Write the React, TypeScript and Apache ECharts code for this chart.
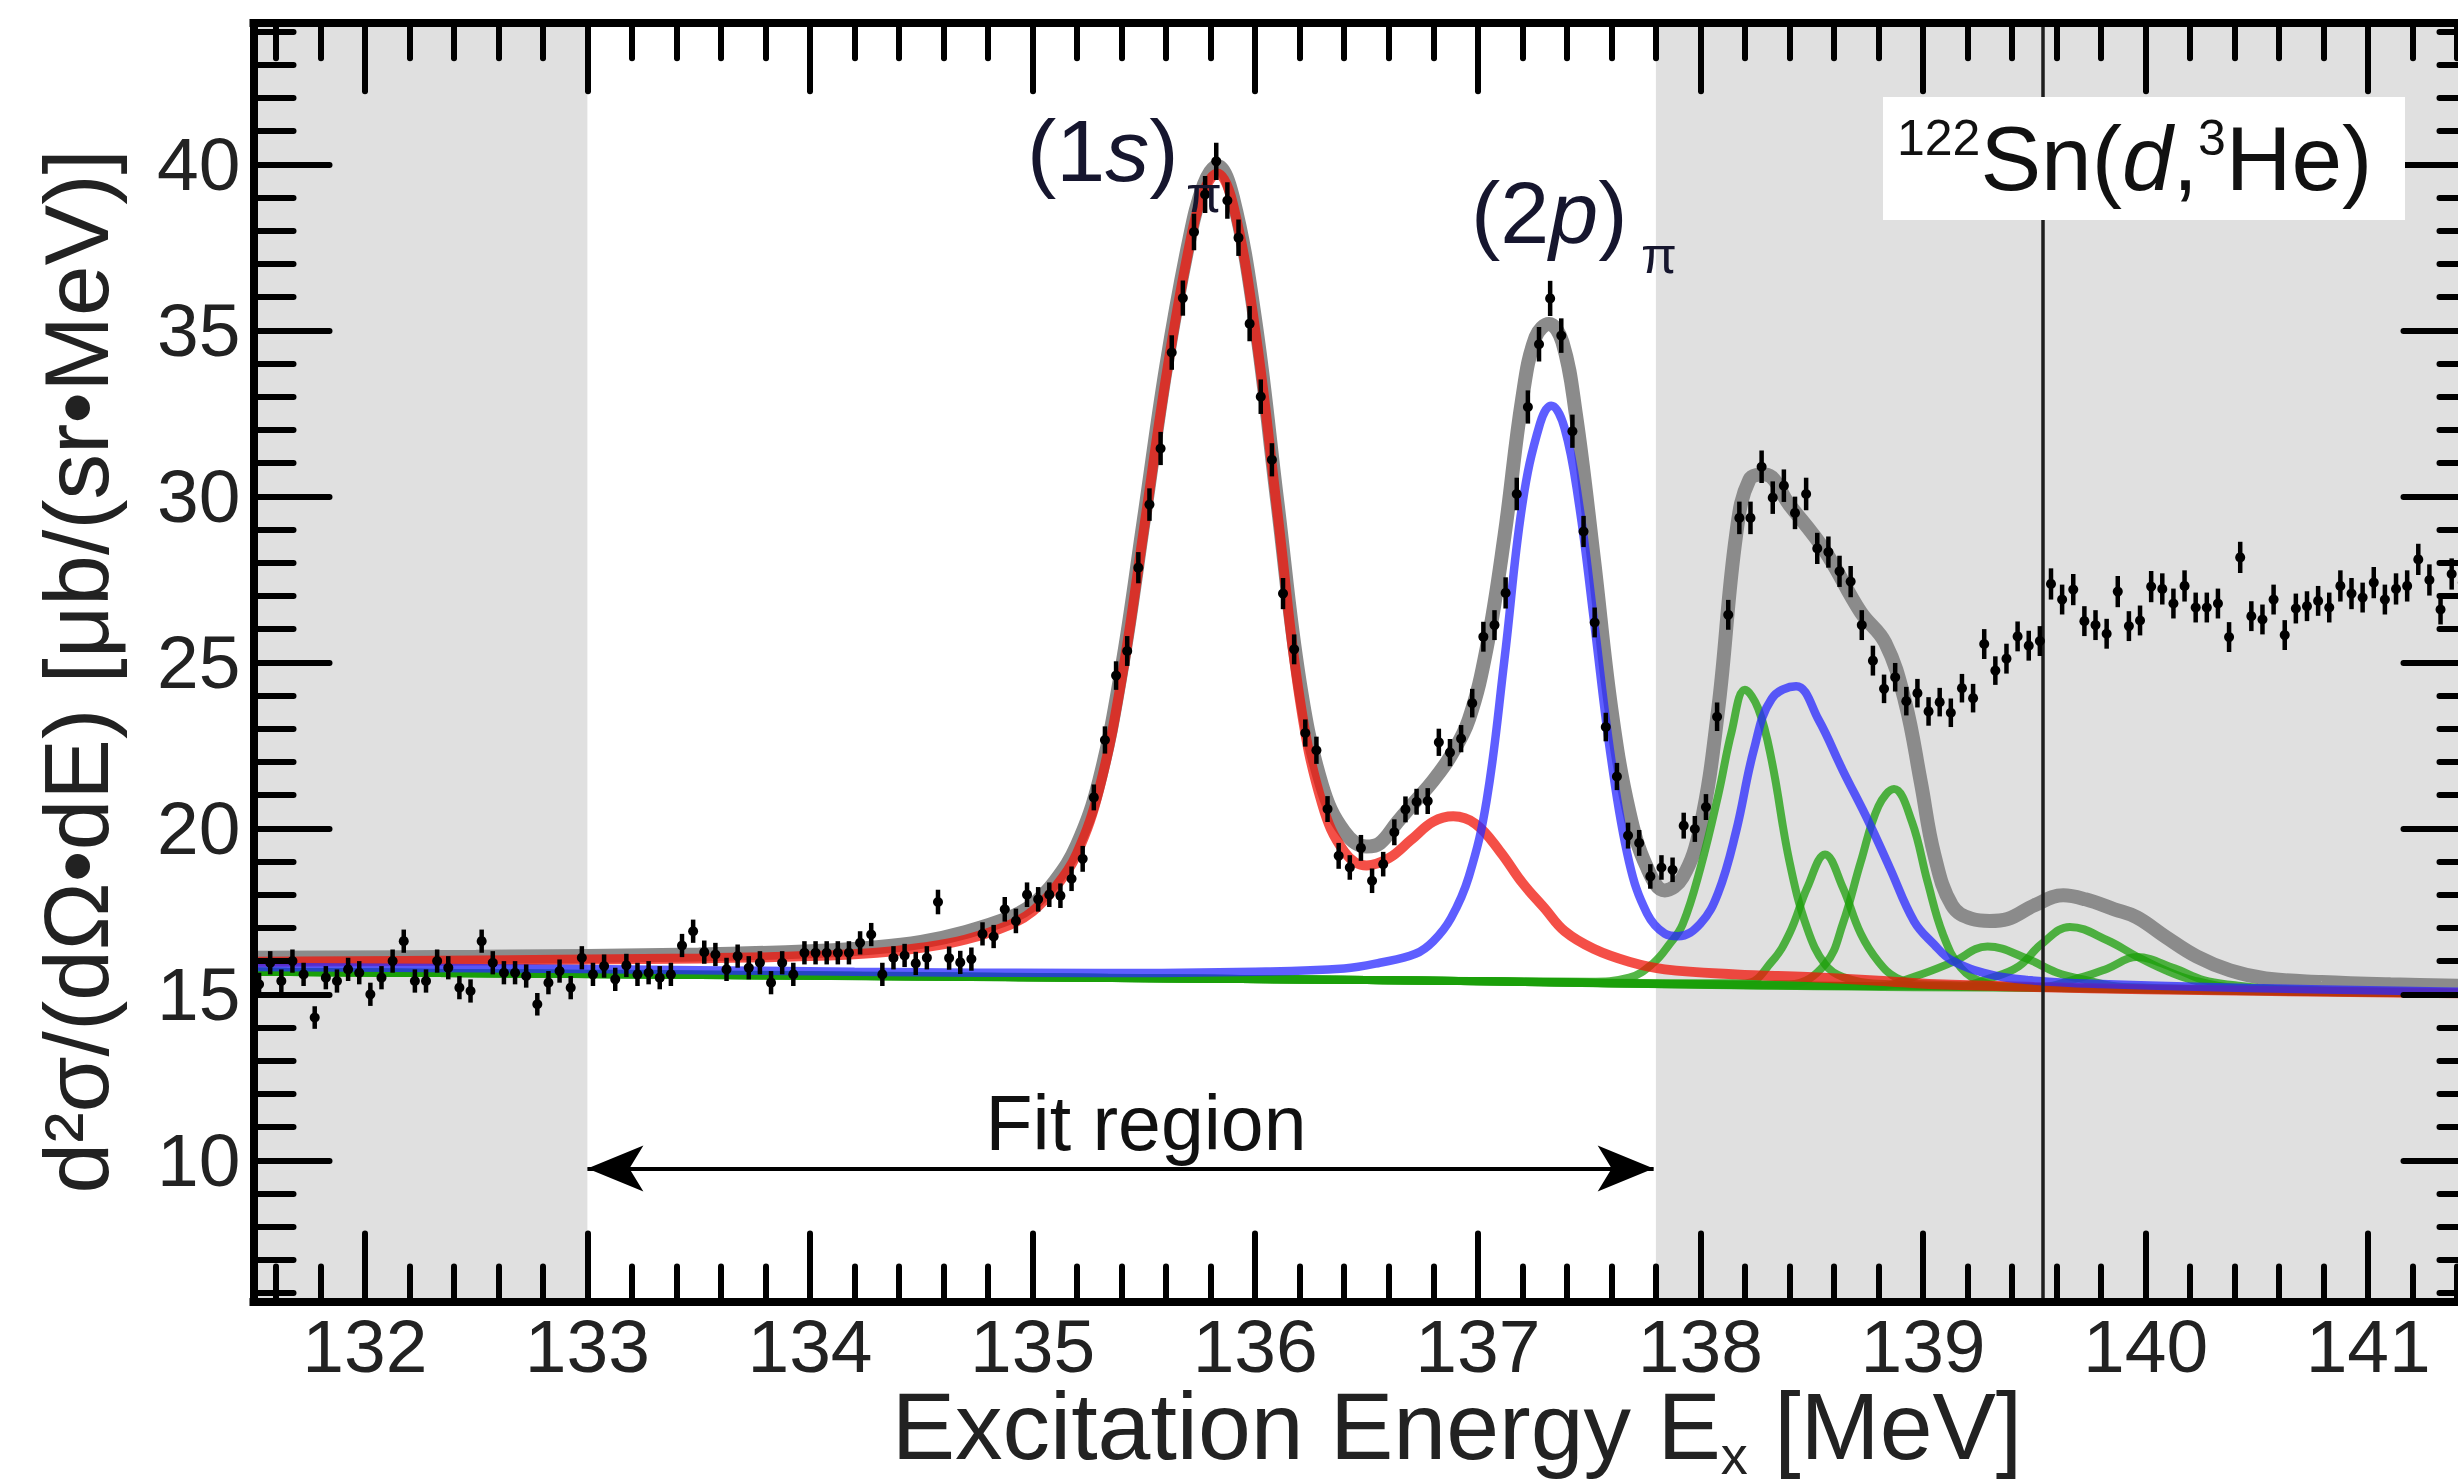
import React, { useEffect, useRef } from "react";
import * as echarts from "echarts";

const FONT = "'Liberation Sans', Arial, Helvetica, sans-serif";

const X_MIN = 131.5;
const X_MAX = 141.5;
const Y_MIN = 5.75;
const Y_MAX = 44.25;

const BIN_START = 131.525;
const BIN_WIDTH = 0.05;

const COUNTS = [
  15.3, 15.95, 15.4, 16.0, 15.6, 14.3, 15.5, 15.4, 15.75, 15.65,
  15.0, 15.5, 16.0, 16.6, 15.4, 15.4, 16.0, 15.8, 15.2, 15.1,
  16.6, 15.95, 15.65, 15.65, 15.55, 14.7, 15.35, 15.7, 15.2, 16.1,
  15.6, 15.85, 15.45, 15.87, 15.6, 15.65, 15.5, 15.6, 16.47, 16.9,
  16.27, 16.2, 15.75, 16.15, 15.8, 15.95, 15.35, 15.95, 15.6, 16.25,
  16.25, 16.25, 16.25, 16.25, 16.55, 16.8, 15.6, 16.1, 16.17, 15.93,
  16.1, 17.78, 16.09, 15.96, 16.06, 16.82, 16.74, 17.56, 17.21, 18.0,
  17.86, 18.0, 17.97, 18.48, 19.08, 20.93, 22.66, 24.6, 25.34, 27.85,
  29.75, 31.44, 34.33, 35.97, 37.96, 39.09, 40.09, 38.91, 37.79, 35.2,
  33.0, 31.1, 27.07, 25.39, 22.87, 22.35, 20.58, 19.17, 18.82, 19.41,
  18.42, 18.92, 19.88, 20.57, 20.8, 20.82, 22.59, 22.28, 22.7, 23.77,
  25.77, 26.12, 27.09, 30.07, 32.69, 34.58, 35.96, 34.84, 31.96, 28.94,
  26.2, 23.05, 21.56, 19.78, 19.56, 18.55, 18.82, 18.75, 20.08, 19.98,
  20.64, 23.36, 26.43, 29.35, 29.35, 30.89, 29.96, 30.32, 29.5, 30.07,
  28.43, 28.32, 27.74, 27.43, 26.12, 25.05, 24.2, 24.55, 23.83, 24.07,
  23.52, 23.8, 23.48, 24.22, 23.92, 25.55, 24.75, 25.11, 25.78, 25.5,
  25.64, 27.36, 26.89, 27.19, 26.24, 26.12, 25.86, 27.13, 26.09, 26.26,
  27.28, 27.21, 26.77, 27.3, 26.65, 26.65, 26.77, 25.76, 28.16, 26.39,
  26.29, 26.89, 25.82, 26.62, 26.69, 26.85, 26.65, 27.3, 27.07, 26.95,
  27.4, 26.89, 27.21, 27.3, 28.1, 27.48, 26.59, 27.66, 27.4, 27.5,
];

const ERRORS = [
  0.35, 0.35, 0.35, 0.35, 0.35, 0.34, 0.35, 0.35, 0.35, 0.35,
  0.35, 0.35, 0.35, 0.35, 0.35, 0.35, 0.35, 0.35, 0.35, 0.35,
  0.35, 0.35, 0.35, 0.35, 0.35, 0.34, 0.35, 0.35, 0.35, 0.35,
  0.35, 0.35, 0.35, 0.35, 0.35, 0.35, 0.35, 0.35, 0.35, 0.35,
  0.35, 0.35, 0.35, 0.35, 0.35, 0.35, 0.35, 0.35, 0.35, 0.35,
  0.35, 0.35, 0.35, 0.35, 0.35, 0.35, 0.35, 0.35, 0.35, 0.35,
  0.35, 0.37, 0.35, 0.35, 0.35, 0.35, 0.35, 0.37, 0.37, 0.37,
  0.37, 0.37, 0.37, 0.37, 0.39, 0.39, 0.41, 0.43, 0.45, 0.47,
  0.49, 0.5, 0.52, 0.53, 0.55, 0.56, 0.56, 0.55, 0.55, 0.53,
  0.52, 0.5, 0.47, 0.45, 0.41, 0.41, 0.39, 0.39, 0.37, 0.39,
  0.37, 0.37, 0.39, 0.39, 0.39, 0.39, 0.41, 0.41, 0.41, 0.43,
  0.45, 0.45, 0.47, 0.49, 0.5, 0.52, 0.53, 0.52, 0.5, 0.47,
  0.45, 0.43, 0.41, 0.39, 0.39, 0.37, 0.37, 0.37, 0.39, 0.39,
  0.39, 0.43, 0.45, 0.49, 0.49, 0.49, 0.49, 0.49, 0.49, 0.49,
  0.47, 0.47, 0.47, 0.47, 0.45, 0.45, 0.43, 0.43, 0.43, 0.43,
  0.43, 0.43, 0.43, 0.43, 0.43, 0.45, 0.43, 0.45, 0.45, 0.45,
  0.45, 0.47, 0.45, 0.47, 0.45, 0.45, 0.45, 0.47, 0.45, 0.45,
  0.47, 0.47, 0.45, 0.47, 0.45, 0.45, 0.45, 0.45, 0.47, 0.45,
  0.45, 0.45, 0.45, 0.45, 0.45, 0.45, 0.45, 0.47, 0.47, 0.45,
  0.47, 0.45, 0.47, 0.47, 0.47, 0.47, 0.45, 0.47, 0.47, 0.47,
];

const FIT_TOTAL = [
  [131.5, 16.1], [132.5, 16.13], [133.5, 16.2], [134.0, 16.3], [134.3, 16.42],
  [134.5, 16.58], [134.7, 16.88], [134.9, 17.32], [135.0, 17.7], [135.1, 18.4],
  [135.2, 19.5], [135.3, 21.45], [135.4, 24.8], [135.5, 29.3], [135.6, 33.9],
  [135.7, 37.6], [135.77, 39.4], [135.83, 39.95], [135.9, 39.0], [136.0, 35.3],
  [136.1, 29.8], [136.2, 24.4], [136.3, 21.3], [136.4, 19.9], [136.5, 19.45],
  [136.56, 19.55], [136.64, 20.2], [136.72, 20.82], [136.8, 21.44], [136.88, 22.2],
  [136.96, 23.28], [137.04, 25.43], [137.12, 28.81], [137.2, 32.96], [137.26, 34.8],
  [137.32, 35.19], [137.38, 34.65], [137.44, 32.5], [137.52, 28.2], [137.6, 23.59],
  [137.68, 20.51], [137.76, 18.82], [137.84, 18.13], [137.92, 18.52], [138.0, 20.05],
  [138.08, 23.59], [138.16, 28.81], [138.22, 30.5], [138.29, 30.66], [138.4, 29.74],
  [138.56, 28.35], [138.72, 26.51], [138.83, 25.59], [138.92, 23.8], [138.99, 21.4],
  [139.05, 19.23], [139.13, 17.68], [139.22, 17.27], [139.3, 17.21], [139.38, 17.27],
  [139.5, 17.68], [139.63, 17.98], [139.73, 17.86], [139.86, 17.56], [139.96, 17.32],
  [140.09, 16.73], [140.23, 16.14], [140.38, 15.72], [140.54, 15.48], [140.79, 15.37],
  [141.1, 15.3], [141.5, 15.25],
];

const FIT_1S = [
  [131.5, 15.98], [132.5, 16.02], [133.5, 16.08], [134.0, 16.15], [134.3, 16.25],
  [134.5, 16.4], [134.7, 16.65], [134.9, 17.1], [135.0, 17.5], [135.1, 18.2],
  [135.2, 19.25], [135.3, 21.2], [135.4, 24.5], [135.5, 29.0], [135.6, 33.6],
  [135.7, 37.4], [135.77, 39.2], [135.83, 39.72], [135.9, 38.8], [136.0, 35.0],
  [136.1, 29.5], [136.2, 23.9], [136.3, 20.75], [136.4, 19.3], [136.5, 18.88],
  [136.6, 19.1], [136.7, 19.65], [136.8, 20.2], [136.89, 20.36], [136.99, 20.13],
  [137.1, 19.3], [137.2, 18.36], [137.3, 17.59], [137.39, 16.9], [137.52, 16.37],
  [137.68, 15.98], [137.84, 15.75], [138.16, 15.6], [138.48, 15.52], [138.8, 15.41],
  [139.06, 15.3], [139.5, 15.22], [140.0, 15.15], [141.5, 15.02],
];

const FIT_2P = [
  [131.5, 15.82], [133.0, 15.76], [134.2, 15.68], [135.3, 15.64], [136.0, 15.68],
  [136.4, 15.78], [136.56, 15.95], [136.72, 16.22], [136.8, 16.6], [136.88, 17.3],
  [136.96, 18.55], [137.04, 20.85], [137.12, 25.1], [137.2, 29.75], [137.28, 32.2],
  [137.33, 32.73], [137.39, 32.05], [137.455, 29.75], [137.52, 26.35], [137.6, 22.05],
  [137.68, 18.98], [137.76, 17.44], [137.84, 16.83], [137.9, 16.75], [138.0, 17.13],
  [138.08, 18.06], [138.16, 19.9], [138.24, 22.36], [138.32, 23.9], [138.43, 24.28],
  [138.53, 23.28], [138.64, 21.74], [138.755, 20.21], [138.85, 18.82], [138.96, 17.2],
  [139.05, 16.5], [139.13, 16.02], [139.3, 15.6], [139.47, 15.43], [139.8, 15.31],
  [140.46, 15.19], [141.5, 15.07],
];

const FIT_OTHER_1 = [
  [131.5, 15.68], [134.0, 15.58], [136.5, 15.43], [137.5, 15.38], [137.68, 15.5],
  [137.79, 15.95], [137.86, 16.5], [137.92, 17.1], [138.0, 18.8], [138.08, 21.0],
  [138.14, 22.9], [138.2, 24.17], [138.26, 23.6], [138.32, 22.05], [138.4, 19.0],
  [138.48, 16.98], [138.56, 15.9], [138.64, 15.52], [138.8, 15.32], [139.5, 15.2],
  [141.5, 15.02],
];
const FIT_OTHER_2 = [
  [131.5, 15.68], [136.5, 15.43], [138.2, 15.33], [138.32, 15.98], [138.4, 16.83],
  [138.48, 18.21], [138.56, 19.21], [138.64, 18.21], [138.72, 16.83], [138.8, 15.98],
  [138.88, 15.5], [139.0, 15.3], [141.5, 15.02],
];
const FIT_OTHER_3 = [
  [131.5, 15.68], [136.5, 15.43], [138.4, 15.3], [138.56, 15.9], [138.64, 17.13],
  [138.72, 18.98], [138.8, 20.67], [138.87, 21.18], [138.95, 20.2], [139.02, 18.4],
  [139.09, 16.8], [139.17, 15.8], [139.27, 15.36], [139.4, 15.22], [141.5, 15.02],
];
const FIT_OTHER_4 = [
  [131.5, 15.68], [136.5, 15.43], [138.8, 15.25], [138.97, 15.55], [139.13, 15.96],
  [139.29, 16.44], [139.465, 16.08], [139.6, 15.66], [139.73, 15.43], [139.9, 15.22],
  [141.5, 15.02],
];
const FIT_OTHER_5 = [
  [131.5, 15.68], [136.5, 15.43], [139.15, 15.24], [139.3, 15.48], [139.43, 15.84],
  [139.53, 16.5], [139.66, 17.03], [139.83, 16.62], [139.96, 16.14], [140.09, 15.72],
  [140.21, 15.43], [140.4, 15.2], [141.5, 15.02],
];
const FIT_OTHER_6 = [
  [131.5, 15.68], [136.5, 15.43], [139.5, 15.2], [139.73, 15.55], [139.83, 15.78],
  [139.96, 16.12], [140.13, 15.78], [140.26, 15.43], [140.39, 15.28], [140.6, 15.15],
  [141.5, 15.02],
];
const OTHER_FITS = [FIT_OTHER_1, FIT_OTHER_2, FIT_OTHER_3, FIT_OTHER_4, FIT_OTHER_5, FIT_OTHER_6];

const EXCLUDED_RANGES = [
  [131.5, 133.0],
  [137.8, 141.5],
];
const FIT_REGION = [133.0, 137.79];
const FIT_ARROW_Y = 9.75;
const THRESHOLD_E = 139.54;

// pixel layout
const W = 2458;
const H = 1484;
const GRID_LEFT = 253.5;
const GRID_TOP = 23.2;
const GRID_RIGHT_PX = 2479.5;
const GRID_BOTTOM_PX = 1301.4;
const ARROW_HEAD_LEN = 56;

export default function App() {
  const ref = useRef<HTMLDivElement>(null);

  useEffect(() => {
    if (!ref.current) return;
    const chart = echarts.init(ref.current, null, { renderer: "svg" });

    const points = COUNTS.map((y, i) => [
      +(BIN_START + i * BIN_WIDTH).toFixed(3),
      y,
      ERRORS[i],
    ]);

    const axisCommonX = {
      type: "value",
      min: X_MIN,
      max: X_MAX,
      splitNumber: 10,
      z: 60,
      splitLine: { show: false },
      nameMoveOverlap: false,
      axisLine: { show: true, onZero: false, lineStyle: { color: "#000", width: 8, cap: "square" } },
      axisTick: { show: true, inside: true, length: 68, lineStyle: { color: "#000", width: 6, cap: "round" } },
      minorTick: { show: true, splitNumber: 5, length: 35, lineStyle: { color: "#000", width: 6, cap: "round" } },
    };
    const axisCommonY = {
      type: "value",
      min: Y_MIN,
      max: Y_MAX,
      splitNumber: 8,
      z: 60,
      splitLine: { show: false },
      nameMoveOverlap: false,
      axisLine: { show: true, onZero: false, lineStyle: { color: "#000", width: 8, cap: "square" } },
      axisTick: { show: true, inside: true, length: 76, lineStyle: { color: "#000", width: 6, cap: "round" } },
      minorTick: { show: true, splitNumber: 5, length: 40, lineStyle: { color: "#000", width: 6, cap: "round" } },
    };

    const greenColor = "rgba(27,159,9,0.75)";

    const option: any = {
      animation: false,
      backgroundColor: "#ffffff",
      textStyle: { fontFamily: FONT },
      grid: {
        left: GRID_LEFT,
        top: GRID_TOP,
        right: W - GRID_RIGHT_PX,
        bottom: H - GRID_BOTTOM_PX,
        containLabel: false,
        outerBoundsMode: "none",
      },
      xAxis: [
        {
          ...axisCommonX,
          position: "bottom",
          name: "{a|Excitation Energy E}{b|x}{a| [MeV]}",
          nameLocation: "middle",
          nameGap: 76.6,
          nameTextStyle: {
            padding: [0, 0, 0, 181],
            rich: {
              a: { fontSize: 95, lineHeight: 80, color: "#222", fontFamily: FONT, verticalAlign: "top" },
              b: { fontSize: 54, lineHeight: 40, color: "#222", fontFamily: FONT, verticalAlign: "top", padding: [50, 0, 0, 0] },
            },
          },
          axisLabel: {
            show: true,
            fontSize: 75,
            lineHeight: 66,
            color: "#222",
            fontFamily: FONT,
            margin: 11.5,
            showMinLabel: false,
            showMaxLabel: false,
          },
        },
        {
          ...axisCommonX,
          position: "top",
          axisLabel: { show: false },
        },
      ],
      yAxis: [
        {
          ...axisCommonY,
          position: "left",
          name: "d²σ/(dΩ•dE) [μb/(sr•MeV)]",
          nameLocation: "middle",
          nameGap: 132,
          nameTextStyle: { fontSize: 91, color: "#222", fontFamily: FONT, padding: [0, 18, 0, 0] },
          axisLabel: {
            show: true,
            fontSize: 75,
            color: "#222",
            fontFamily: FONT,
            margin: 13,
            showMinLabel: false,
            showMaxLabel: false,
          },
        },
        {
          ...axisCommonY,
          position: "right",
          axisLabel: { show: false },
        },
      ],
      series: [
        {
          name: "excluded",
          type: "line",
          data: [],
          z: 1,
          markArea: {
            silent: true,
            z: 1,
            itemStyle: { color: "#e0e0e0" },
            data: EXCLUDED_RANGES.map((r) => [{ xAxis: r[0] }, { xAxis: r[1] }]),
          },
        },
        {
          name: "total",
          type: "line",
          data: FIT_TOTAL,
          smooth: 0.4,
          showSymbol: false,
          z: 2,
          lineStyle: { color: "#8b8b8b", width: 14 },
        },
        ...OTHER_FITS.map((d, i) => ({
          name: "other" + i,
          type: "line",
          data: d,
          smooth: 0.4,
          showSymbol: false,
          z: 3,
          lineStyle: { color: greenColor, width: 8 },
        })),
        {
          name: "1s",
          type: "line",
          data: FIT_1S,
          smooth: 0.4,
          showSymbol: false,
          z: 4,
          lineStyle: { color: "rgba(240,20,10,0.75)", width: 10 },
        },
        {
          name: "2p",
          type: "line",
          data: FIT_2P,
          smooth: 0.4,
          showSymbol: false,
          z: 5,
          lineStyle: { color: "rgba(40,40,255,0.75)", width: 8.5 },
        },
        {
          name: "threshold",
          type: "line",
          data: [],
          z: 6,
          markLine: {
            silent: true,
            z: 6,
            symbol: ["none", "none"],
            label: { show: false },
            lineStyle: { color: "#1e1e1e", width: 3.5, type: "solid" },
            data: [{ xAxis: THRESHOLD_E }],
          },
        },
        {
          name: "fitRegion",
          type: "line",
          data: [],
          z: 7,
          markLine: {
            silent: true,
            z: 7,
            symbol: ["arrow", "arrow"],
            symbolSize: [34.5, ARROW_HEAD_LEN],
            label: { show: false },
            lineStyle: { color: "#000", width: 4, type: "solid" },
            itemStyle: { color: "#000" },
            data: [
              [
                { coord: [FIT_REGION[0], FIT_ARROW_Y] },
                { coord: [FIT_REGION[1], FIT_ARROW_Y] },
              ],
            ],
          },
        },
        {
          name: "data",
          type: "custom",
          z: 10,
          clip: true,
          dimensions: ["x", "y", "err"],
          encode: { x: 0, y: 1 },
          data: points,
          renderItem: (params: any, api: any) => {
            const x = api.value(0);
            const y = api.value(1);
            const e = api.value(2);
            const p = api.coord([x, y]);
            const t = api.coord([x, y + e]);
            const b = api.coord([x, y - e]);
            return {
              type: "group",
              children: [
                {
                  type: "line",
                  shape: { x1: p[0], y1: t[1], x2: p[0], y2: b[1] },
                  style: { stroke: "#000", lineWidth: 4.5 },
                },
                {
                  type: "circle",
                  shape: { cx: p[0], cy: p[1], r: 5 },
                  style: { fill: "#000" },
                },
              ],
            };
          },
        },
      ],
      graphic: [
        {
          type: "text",
          z: 100,
          x: 1027,
          y: 150.5,
          style: {
            text: "{a|(1}{b|s}{a|)}",
            verticalAlign: "middle",
            rich: {
              a: { fontSize: 88, fontFamily: FONT, fill: "#16162e" },
              b: { fontSize: 88, fontFamily: FONT, fontStyle: "italic", fill: "#16162e" },
            },
          },
        },
        {
          type: "text",
          z: 100,
          x: 1186,
          y: 194,
          style: { text: "π", fontSize: 52, fontFamily: FONT, fill: "#16162e", verticalAlign: "middle" },
        },
        {
          type: "text",
          z: 100,
          x: 1471,
          y: 212.5,
          style: {
            text: "{a|(2}{b|p}{a|)}",
            verticalAlign: "middle",
            rich: {
              a: { fontSize: 88, fontFamily: FONT, fill: "#16162e" },
              b: { fontSize: 88, fontFamily: FONT, fontStyle: "italic", fill: "#16162e" },
            },
          },
        },
        {
          type: "text",
          z: 100,
          x: 1641,
          y: 255,
          style: { text: "π", fontSize: 52, fontFamily: FONT, fill: "#16162e", verticalAlign: "middle" },
        },
        {
          type: "rect",
          z: 100,
          shape: { x: 1883, y: 97, width: 522, height: 123 },
          style: { fill: "#ffffff" },
        },
        {
          type: "text",
          z: 101,
          x: 1897,
          y: 113,
          style: {
            text: "{s|122}{m|Sn(}{i|d}{m|,}{s|3}{m|He)}",
            verticalAlign: "top",
            rich: {
              s: { fontSize: 50, fontFamily: FONT, fill: "#111", verticalAlign: "top" },
              m: { fontSize: 91, fontFamily: FONT, fill: "#111", verticalAlign: "top" },
              i: { fontSize: 91, fontFamily: FONT, fontStyle: "italic", fill: "#111", verticalAlign: "top" },
            },
          },
        },
        {
          type: "text",
          z: 100,
          x: 1146,
          y: 1123,
          style: {
            text: "Fit region",
            fontSize: 77,
            fontFamily: FONT,
            fill: "#111",
            align: "center",
            verticalAlign: "middle",
          },
        },
      ],
    };

    chart.setOption(option);
    return () => chart.dispose();
  }, []);

  return (
    <div style={{ position: "fixed", left: 0, top: 0, width: W, height: H, overflow: "hidden", background: "#fff" }}>
      <div ref={ref} style={{ width: W, height: H }} />
    </div>
  );
}
